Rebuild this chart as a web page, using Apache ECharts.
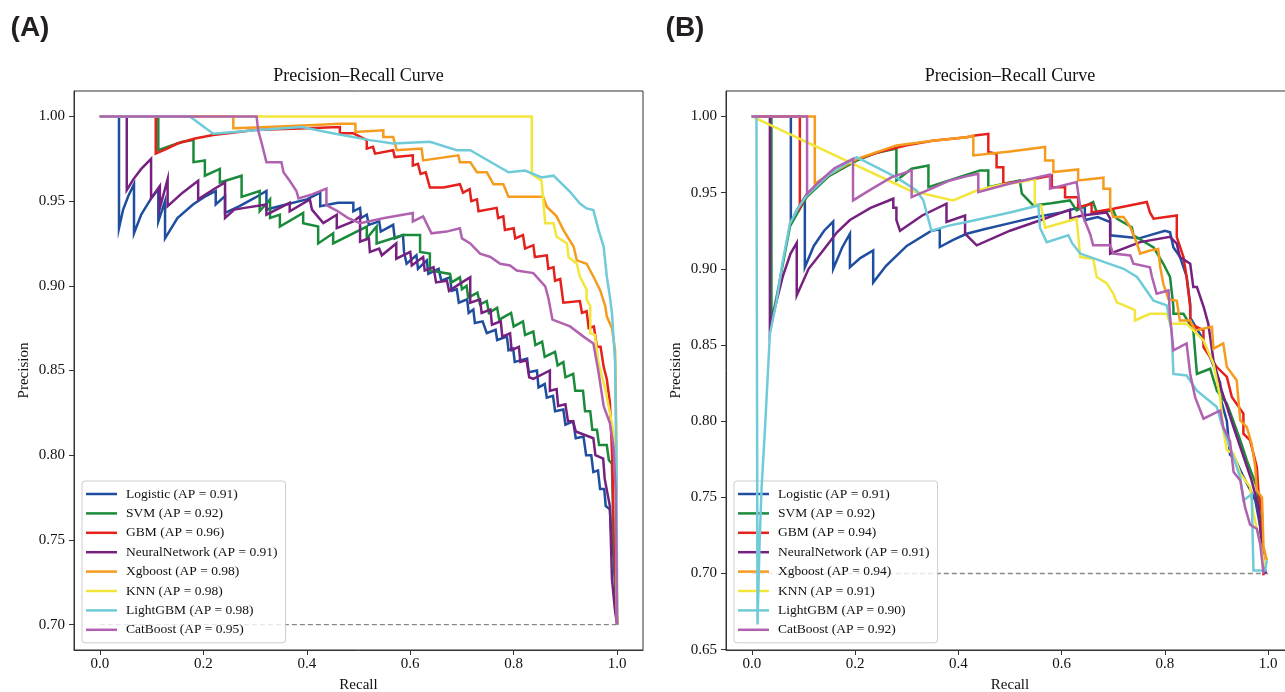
<!DOCTYPE html>
<html>
<head>
<meta charset="utf-8">
<script src="https://cdn.jsdelivr.net/npm/echarts@6/dist/echarts.min.js"></script>
<style>html,body{margin:0;padding:0;background:#fff;}#c{width:1285px;height:692px;}</style>
</head>
<body>
<div id="c"></div>
<script>
// ---------- DATA ----------
const models = ['Logistic', 'SVM', 'GBM', 'NeuralNetwork', 'Xgboost', 'KNN', 'LightGBM', 'CatBoost'];
const apA = ['0.91', '0.92', '0.96', '0.91', '0.98', '0.98', '0.98', '0.95'];
const apB = ['0.91', '0.92', '0.94', '0.91', '0.94', '0.91', '0.90', '0.92'];
const colors = ['#1f4e9f', '#1b8a3b', '#e4211c', '#76217f', '#f59b1e', '#f2e63d', '#6fcbd8', '#b062b0'];
const xTicks = [0.0, 0.2, 0.4, 0.6, 0.8, 1.0];
const yTicksA = [0.70, 0.75, 0.80, 0.85, 0.90, 0.95, 1.00];
const yTicksB = [0.65, 0.70, 0.75, 0.80, 0.85, 0.90, 0.95, 1.00];
const baseline = [[0, 0.70], [1.0, 0.70]];

// Panel A curves [recall, precision]
const logisticA = [[0,1],[0.037,1],[0.037,0.934],[0.045,0.945],[0.055,0.953],[0.066,0.96],[0.066,0.931],[0.08,0.942],[0.1,0.952],[0.113,0.957],[0.113,0.938],[0.126,0.95],[0.126,0.928],[0.15,0.94],[0.18,0.948],[0.205,0.953],[0.224,0.956],[0.224,0.948],[0.242,0.953],[0.242,0.943],[0.27,0.947],[0.3,0.952],[0.322,0.956],[0.322,0.945],[0.36,0.948],[0.4,0.951],[0.426,0.955],[0.426,0.947],[0.46,0.949],[0.49,0.949],[0.49,0.944],[0.503,0.946],[0.505,0.94],[0.516,0.942],[0.52,0.936],[0.54,0.938],[0.543,0.932],[0.567,0.936],[0.57,0.928],[0.586,0.93],[0.588,0.92],[0.593,0.913],[0.612,0.918],[0.615,0.91],[0.632,0.915],[0.635,0.907],[0.655,0.91],[0.66,0.903],[0.677,0.905],[0.68,0.897],[0.69,0.898],[0.694,0.89],[0.71,0.892],[0.713,0.884],[0.722,0.886],[0.725,0.878],[0.74,0.879],[0.748,0.872],[0.765,0.874],[0.768,0.868],[0.787,0.87],[0.79,0.862],[0.799,0.863],[0.802,0.855],[0.826,0.857],[0.829,0.849],[0.845,0.85],[0.848,0.84],[0.86,0.842],[0.864,0.834],[0.876,0.835],[0.88,0.826],[0.896,0.827],[0.9,0.818],[0.915,0.82],[0.92,0.81],[0.935,0.811],[0.94,0.8],[0.95,0.8],[0.954,0.79],[0.963,0.791],[0.967,0.78],[0.975,0.78],[0.978,0.77],[0.986,0.768],[0.988,0.757],[0.99,0.752],[0.993,0.74],[1.0,0.70]];
const svmA = [[0,1],[0.113,1],[0.113,0.98],[0.14,0.983],[0.16,0.985],[0.181,0.986],[0.181,0.973],[0.203,0.974],[0.203,0.965],[0.232,0.969],[0.232,0.961],[0.274,0.965],[0.274,0.9525],[0.309,0.956],[0.309,0.944],[0.329,0.951],[0.329,0.94],[0.348,0.942],[0.348,0.935],[0.393,0.943],[0.393,0.937],[0.422,0.935],[0.422,0.925],[0.451,0.931],[0.451,0.925],[0.516,0.935],[0.516,0.928],[0.535,0.935],[0.535,0.925],[0.586,0.93],[0.619,0.93],[0.619,0.92],[0.638,0.919],[0.638,0.909],[0.677,0.907],[0.68,0.902],[0.696,0.905],[0.7,0.898],[0.709,0.9],[0.712,0.893],[0.73,0.896],[0.735,0.889],[0.748,0.891],[0.752,0.884],[0.768,0.887],[0.772,0.88],[0.795,0.884],[0.8,0.876],[0.818,0.879],[0.822,0.871],[0.838,0.873],[0.842,0.865],[0.855,0.867],[0.86,0.858],[0.88,0.861],[0.885,0.853],[0.896,0.855],[0.9,0.846],[0.915,0.848],[0.919,0.838],[0.934,0.838],[0.938,0.826],[0.948,0.826],[0.952,0.815],[0.961,0.815],[0.965,0.806],[0.98,0.806],[0.984,0.797],[0.99,0.795],[0.993,0.75],[1.0,0.70]];
const gbmA = [[0,1],[0.108,1],[0.108,0.978],[0.13,0.981],[0.15,0.984],[0.184,0.987],[0.219,0.989],[0.3,0.992],[0.4,0.993],[0.464,0.9937],[0.464,0.99],[0.49,0.99],[0.516,0.986],[0.516,0.981],[0.528,0.982],[0.532,0.978],[0.567,0.98],[0.57,0.976],[0.605,0.977],[0.605,0.971],[0.615,0.972],[0.62,0.966],[0.63,0.967],[0.638,0.958],[0.664,0.958],[0.696,0.96],[0.702,0.955],[0.715,0.957],[0.718,0.95],[0.729,0.951],[0.732,0.944],[0.767,0.946],[0.77,0.94],[0.78,0.941],[0.783,0.933],[0.8,0.934],[0.803,0.928],[0.818,0.93],[0.822,0.922],[0.838,0.924],[0.841,0.917],[0.864,0.918],[0.867,0.91],[0.877,0.911],[0.88,0.903],[0.89,0.904],[0.896,0.89],[0.928,0.891],[0.932,0.884],[0.941,0.885],[0.945,0.875],[0.955,0.876],[0.961,0.864],[0.968,0.864],[0.974,0.852],[0.98,0.845],[0.986,0.831],[0.99,0.802],[0.993,0.766],[1.0,0.70]];
const nnA = [[0,1],[0.052,1],[0.052,0.9565],[0.065,0.963],[0.08,0.969],[0.099,0.975],[0.099,0.9516],[0.116,0.959],[0.116,0.946],[0.131,0.963],[0.131,0.947],[0.16,0.955],[0.19,0.962],[0.19,0.951],[0.22,0.957],[0.242,0.961],[0.242,0.94],[0.26,0.945],[0.28,0.946],[0.322,0.948],[0.322,0.942],[0.367,0.949],[0.367,0.944],[0.406,0.951],[0.41,0.945],[0.432,0.937],[0.458,0.942],[0.458,0.934],[0.49,0.938],[0.503,0.941],[0.503,0.926],[0.52,0.928],[0.522,0.92],[0.54,0.922],[0.545,0.918],[0.573,0.925],[0.573,0.916],[0.6,0.92],[0.603,0.912],[0.625,0.917],[0.628,0.909],[0.645,0.911],[0.65,0.902],[0.671,0.903],[0.675,0.897],[0.7,0.902],[0.716,0.905],[0.716,0.89],[0.735,0.892],[0.738,0.884],[0.755,0.886],[0.758,0.877],[0.775,0.879],[0.778,0.87],[0.793,0.872],[0.796,0.862],[0.81,0.864],[0.813,0.855],[0.825,0.856],[0.83,0.846],[0.838,0.845],[0.87,0.85],[0.87,0.838],[0.883,0.839],[0.886,0.829],[0.9,0.83],[0.905,0.82],[0.915,0.82],[0.92,0.814],[0.954,0.81],[0.958,0.8],[0.973,0.798],[0.976,0.786],[0.986,0.77],[0.99,0.727],[0.996,0.708],[1.0,0.70]];
const xgbA = [[0,1],[0.258,1],[0.258,0.993],[0.3,0.9935],[0.393,0.9947],[0.464,0.9957],[0.494,0.9957],[0.494,0.9908],[0.548,0.9918],[0.548,0.9878],[0.567,0.9878],[0.574,0.98],[0.622,0.981],[0.625,0.974],[0.693,0.977],[0.696,0.973],[0.716,0.973],[0.729,0.967],[0.748,0.967],[0.761,0.96],[0.78,0.96],[0.79,0.9525],[0.857,0.9525],[0.864,0.9467],[0.883,0.941],[0.896,0.933],[0.916,0.923],[0.922,0.915],[0.941,0.913],[0.954,0.9055],[0.967,0.8976],[0.977,0.888],[0.98,0.882],[0.99,0.875],[0.996,0.862],[0.998,0.82],[1.0,0.70]];
const knnA = [[0,1],[0.835,1],[0.835,0.966],[0.854,0.962],[0.857,0.9506],[0.861,0.937],[0.877,0.937],[0.883,0.929],[0.903,0.925],[0.906,0.917],[0.922,0.913],[0.928,0.9055],[0.941,0.8976],[0.941,0.892],[0.948,0.888],[0.948,0.872],[0.957,0.871],[0.964,0.8545],[0.977,0.839],[0.986,0.825],[0.993,0.813],[0.996,0.80],[1.0,0.70]];
const lgbmA = [[0,1],[0.174,1],[0.219,0.9898],[0.3,0.9918],[0.39,0.9937],[0.45,0.99],[0.522,0.986],[0.567,0.984],[0.638,0.985],[0.69,0.98],[0.716,0.98],[0.79,0.967],[0.822,0.968],[0.854,0.964],[0.877,0.965],[0.909,0.9555],[0.928,0.9486],[0.941,0.9457],[0.954,0.9447],[0.964,0.933],[0.974,0.923],[0.98,0.9055],[0.986,0.8935],[0.99,0.884],[0.996,0.855],[0.999,0.786],[1.0,0.70]];
const catA = [[0,1],[0.303,1],[0.306,0.9918],[0.313,0.984],[0.322,0.973],[0.351,0.973],[0.355,0.967],[0.367,0.962],[0.38,0.956],[0.384,0.9516],[0.41,0.954],[0.438,0.9574],[0.438,0.9476],[0.46,0.944],[0.48,0.94],[0.503,0.937],[0.55,0.94],[0.605,0.943],[0.605,0.938],[0.625,0.941],[0.641,0.931],[0.67,0.932],[0.696,0.934],[0.7,0.928],[0.716,0.925],[0.735,0.919],[0.755,0.917],[0.774,0.913],[0.793,0.912],[0.806,0.909],[0.838,0.9075],[0.861,0.8996],[0.867,0.893],[0.875,0.88],[0.909,0.876],[0.935,0.87],[0.954,0.866],[0.964,0.849],[0.974,0.829],[0.986,0.819],[0.993,0.805],[0.997,0.78],[1.0,0.70]];

// Panel B curves [recall, precision]
const logisticB = [[0,1],[0.0756,1],[0.0756,0.9296],[0.085,0.937],[0.095,0.943],[0.1027,0.947],[0.1027,0.901],[0.12,0.915],[0.14,0.925],[0.1576,0.931],[0.1576,0.9],[0.175,0.914],[0.19,0.923],[0.19,0.901],[0.21,0.907],[0.235,0.912],[0.235,0.891],[0.26,0.902],[0.3,0.915],[0.348,0.925],[0.364,0.926],[0.364,0.9143],[0.39,0.919],[0.416,0.923],[0.45,0.926],[0.5,0.93],[0.55,0.934],[0.6,0.937],[0.63,0.94],[0.645,0.9405],[0.645,0.932],[0.67,0.934],[0.694,0.9307],[0.694,0.922],[0.75,0.92],[0.8,0.925],[0.81,0.924],[0.8165,0.914],[0.829,0.908],[0.842,0.895],[0.849,0.877],[0.849,0.868],[0.87,0.856],[0.89,0.84],[0.907,0.825],[0.907,0.816],[0.92,0.80],[0.926,0.778],[0.936,0.775],[0.95,0.765],[0.965,0.755],[0.975,0.748],[0.985,0.73],[0.99,0.71],[0.995,0.70]];
const svmB = [[0,1],[0.038,1],[0.038,0.865],[0.05,0.885],[0.074,0.928],[0.106,0.947],[0.15,0.961],[0.203,0.971],[0.24,0.976],[0.28,0.979],[0.28,0.958],[0.3095,0.9657],[0.342,0.9678],[0.342,0.9536],[0.4,0.96],[0.442,0.9646],[0.458,0.9646],[0.458,0.9536],[0.49,0.956],[0.519,0.958],[0.523,0.9493],[0.545,0.9416],[0.58,0.943],[0.616,0.9449],[0.629,0.9383],[0.661,0.9438],[0.668,0.9372],[0.7,0.9383],[0.7068,0.9329],[0.736,0.9273],[0.739,0.922],[0.778,0.914],[0.797,0.9033],[0.81,0.8946],[0.8165,0.8749],[0.8165,0.8705],[0.836,0.8705],[0.855,0.8596],[0.862,0.831],[0.8876,0.8344],[0.9006,0.82],[0.92,0.8115],[0.9296,0.8027],[0.946,0.7874],[0.9587,0.7743],[0.978,0.7568],[0.9845,0.735],[0.991,0.702]];
const gbmB = [[0,1],[0.093,1],[0.093,0.94],[0.107,0.949],[0.15,0.962],[0.196,0.971],[0.25,0.977],[0.3,0.981],[0.35,0.984],[0.416,0.9864],[0.432,0.9875],[0.458,0.9886],[0.458,0.9766],[0.474,0.9755],[0.474,0.9667],[0.487,0.9667],[0.487,0.9558],[0.53,0.958],[0.581,0.9613],[0.581,0.9536],[0.6066,0.9536],[0.6066,0.947],[0.632,0.947],[0.632,0.9405],[0.658,0.9427],[0.658,0.937],[0.7,0.9394],[0.765,0.9438],[0.771,0.937],[0.778,0.9329],[0.823,0.935],[0.823,0.9208],[0.836,0.9077],[0.842,0.8946],[0.849,0.8749],[0.849,0.864],[0.8747,0.8596],[0.8747,0.8486],[0.9006,0.8355],[0.92,0.829],[0.9296,0.8158],[0.952,0.805],[0.952,0.7918],[0.965,0.7874],[0.978,0.77],[0.981,0.7546],[0.988,0.7393],[0.991,0.6988]];
const nnB = [[0,1],[0.035,1],[0.035,0.86],[0.045,0.875],[0.06,0.895],[0.075,0.91],[0.087,0.917],[0.087,0.8825],[0.11,0.9],[0.138,0.912],[0.165,0.924],[0.19,0.932],[0.23,0.94],[0.274,0.946],[0.274,0.94],[0.28,0.94],[0.28,0.932],[0.287,0.925],[0.33,0.935],[0.377,0.9427],[0.377,0.9307],[0.413,0.935],[0.413,0.923],[0.4355,0.9154],[0.5,0.925],[0.56,0.932],[0.616,0.9388],[0.617,0.9329],[0.64,0.935],[0.687,0.937],[0.694,0.933],[0.694,0.91],[0.752,0.9175],[0.81,0.921],[0.823,0.9165],[0.829,0.9077],[0.849,0.9033],[0.855,0.888],[0.862,0.888],[0.875,0.875],[0.884,0.864],[0.894,0.84],[0.91,0.82],[0.933,0.796],[0.946,0.783],[0.968,0.761],[0.981,0.744],[0.99,0.71],[0.995,0.70]];
const xgbB = [[0,1],[0.122,1],[0.122,0.9558],[0.15,0.962],[0.203,0.972],[0.28,0.981],[0.35,0.984],[0.416,0.9864],[0.429,0.9875],[0.429,0.9744],[0.5,0.977],[0.568,0.98],[0.568,0.9711],[0.584,0.9711],[0.584,0.9635],[0.632,0.9652],[0.632,0.958],[0.681,0.9598],[0.681,0.9526],[0.694,0.9526],[0.694,0.9405],[0.7,0.934],[0.72,0.934],[0.733,0.9273],[0.746,0.9165],[0.752,0.91],[0.771,0.912],[0.787,0.913],[0.791,0.901],[0.797,0.89],[0.807,0.88],[0.823,0.879],[0.829,0.866],[0.849,0.866],[0.8585,0.8596],[0.891,0.862],[0.894,0.8476],[0.913,0.851],[0.92,0.8355],[0.939,0.8268],[0.946,0.8005],[0.9587,0.796],[0.968,0.785],[0.975,0.77],[0.978,0.7546],[0.988,0.75],[0.991,0.7174],[0.9975,0.7087]];
const knnB = [[0,1],[0.306,0.9514],[0.39,0.9449],[0.4355,0.9514],[0.48,0.955],[0.52,0.957],[0.548,0.959],[0.548,0.9416],[0.56,0.9416],[0.568,0.927],[0.629,0.9329],[0.636,0.9077],[0.661,0.9066],[0.668,0.8946],[0.687,0.8906],[0.7,0.8837],[0.7068,0.878],[0.736,0.8738],[0.742,0.8727],[0.742,0.8661],[0.771,0.8705],[0.8036,0.8705],[0.81,0.864],[0.842,0.864],[0.8747,0.853],[0.894,0.8377],[0.907,0.8158],[0.913,0.794],[0.92,0.781],[0.933,0.7787],[0.946,0.7655],[0.965,0.7568],[0.9715,0.7393],[0.9845,0.7196],[0.994,0.7043]];
const lgbmB = [[0,1],[0.009,1],[0.011,0.6665],[0.015,0.72],[0.019,0.757],[0.025,0.792],[0.035,0.857],[0.048,0.879],[0.06,0.905],[0.0736,0.9296],[0.09,0.94],[0.106,0.948],[0.15,0.962],[0.203,0.9733],[0.28,0.96],[0.319,0.9514],[0.332,0.945],[0.348,0.925],[0.368,0.927],[0.3837,0.9285],[0.416,0.9307],[0.5,0.937],[0.555,0.9416],[0.558,0.927],[0.571,0.9175],[0.613,0.922],[0.62,0.917],[0.636,0.91],[0.72,0.9],[0.746,0.8946],[0.778,0.879],[0.8036,0.876],[0.813,0.8596],[0.8165,0.831],[0.842,0.83],[0.862,0.82],[0.9006,0.8093],[0.91,0.798],[0.926,0.783],[0.946,0.763],[0.952,0.748],[0.968,0.752],[0.9715,0.702],[0.994,0.702],[0.9975,0.7087]];
const catB = [[0,1],[0.107,1],[0.107,0.9493],[0.13,0.957],[0.16,0.966],[0.196,0.9722],[0.196,0.9449],[0.23,0.952],[0.27,0.96],[0.3095,0.9646],[0.3095,0.947],[0.35,0.953],[0.3837,0.958],[0.4225,0.9613],[0.4386,0.9624],[0.4386,0.9503],[0.5,0.956],[0.5775,0.9619],[0.5775,0.9526],[0.629,0.9569],[0.636,0.9405],[0.642,0.934],[0.655,0.923],[0.661,0.9154],[0.694,0.9154],[0.7,0.91],[0.733,0.9088],[0.739,0.9033],[0.771,0.901],[0.775,0.8946],[0.784,0.8837],[0.807,0.8858],[0.81,0.8683],[0.8165,0.8465],[0.842,0.851],[0.849,0.831],[0.8585,0.8158],[0.8747,0.8016],[0.907,0.807],[0.913,0.796],[0.926,0.787],[0.933,0.7666],[0.946,0.761],[0.955,0.7437],[0.965,0.732],[0.978,0.7294],[0.9845,0.7196],[0.991,0.70]];

const curvesA = [logisticA, svmA, gbmA, nnA, xgbA, knnA, lgbmA, catA];
const curvesB = [logisticB, svmB, gbmB, nnB, xgbB, knnB, lgbmB, catB];

// ---------- CHART ----------
const serif = 'Liberation Serif, Times New Roman, serif';
const namesA = models.map((m, i) => m + ' (AP = ' + apA[i] + ')');
const namesB = models.map((m, i) => m + ' (AP = ' + apB[i] + ')');

function xAxisCfg(gi) {
  return {
    type: 'value', gridIndex: gi, min: -0.05, max: 1.05,
    name: 'Recall', nameLocation: 'middle', nameGap: 28,
    nameTextStyle: {fontFamily: serif, fontSize: 15, color: '#111'},
    axisLine: {show: true, onZero: false, lineStyle: {color: '#333', width: 1}},
    axisTick: {show: true, length: 5, customValues: xTicks, lineStyle: {color: '#333'}},
    axisLabel: {customValues: xTicks, formatter: v => v.toFixed(1), fontFamily: serif, fontSize: 15, color: '#111', margin: 7},
    splitLine: {show: false}
  };
}
function yAxisCfg(gi, min, max, ticks) {
  return {
    type: 'value', gridIndex: gi, min: min, max: max,
    name: 'Precision', nameLocation: 'middle', nameGap: 42,
    nameTextStyle: {fontFamily: serif, fontSize: 15, color: '#111'},
    axisLine: {show: true, onZero: false, lineStyle: {color: '#333', width: 1}},
    axisTick: {show: true, length: 5, customValues: ticks, lineStyle: {color: '#333'}},
    axisLabel: {customValues: ticks, formatter: v => v.toFixed(2), fontFamily: serif, fontSize: 15, color: '#111', margin: 9},
    splitLine: {show: false}
  };
}
function legendCfg(left, names) {
  return {
    orient: 'vertical', left: left, top: 481, data: names,
    icon: 'rect', itemWidth: 31, itemHeight: 2.5, itemGap: 3.4,
    padding: [5, 8, 5, 4], backgroundColor: 'rgba(255,255,255,0.8)',
    borderColor: '#cccccc', borderWidth: 1, borderRadius: 3,
    selectedMode: false,
    textStyle: {fontFamily: serif, fontSize: 13.5, color: '#111', lineHeight: 16, padding: [0, 0, 0, 4]}
  };
}

const series = [];
[0, 1].forEach(p => {
  series.push({
    type: 'line', xAxisIndex: p, yAxisIndex: p, data: baseline, silent: true,
    showSymbol: false, symbol: 'none', z: 1,
    lineStyle: {color: '#888888', width: 1.4, type: [5, 3]}
  });
  const curves = p === 0 ? curvesA : curvesB;
  const names = p === 0 ? namesA : namesB;
  curves.forEach((d, i) => {
    series.push({
      type: 'line', name: names[i], xAxisIndex: p, yAxisIndex: p, data: d,
      showSymbol: false, symbol: 'none', z: 2 + i, color: colors[i],
      itemStyle: {color: colors[i]},
      lineStyle: {color: colors[i], width: 2.5, join: 'miter'}
    });
  });
});

const chart = echarts.init(document.getElementById('c'), null, {renderer: 'canvas'});
chart.setOption({
  animation: false,
  backgroundColor: '#ffffff',
  grid: [
    {left: 74, top: 91, width: 569, height: 559, show: true, borderColor: '#333', borderWidth: 1, backgroundColor: 'transparent', containLabel: false, outerBoundsMode: 'none'},
    {left: 726, top: 91, width: 568, height: 559, show: true, borderColor: '#333', borderWidth: 1, backgroundColor: 'transparent', containLabel: false, outerBoundsMode: 'none'}
  ],
  xAxis: [xAxisCfg(0), xAxisCfg(1)],
  yAxis: [yAxisCfg(0, 0.685, 1.015, yTicksA), yAxisCfg(1, 0.6498, 1.0167, yTicksB)],
  legend: [legendCfg(82, namesA), legendCfg(734, namesB)],
  graphic: [
    {type: 'text', x: 30, y: 28, style: {text: '(A)', font: 'bold 28px "Liberation Sans", Arial, sans-serif', fill: '#231f20', textAlign: 'center', textVerticalAlign: 'middle'}},
    {type: 'text', x: 685, y: 28, style: {text: '(B)', font: 'bold 28px "Liberation Sans", Arial, sans-serif', fill: '#231f20', textAlign: 'center', textVerticalAlign: 'middle'}},
    {type: 'text', x: 358.5, y: 76, style: {text: 'Precision–Recall Curve', font: '18px "Liberation Serif", serif', fill: '#111', textAlign: 'center', textVerticalAlign: 'middle'}},
    {type: 'text', x: 1010, y: 76, style: {text: 'Precision–Recall Curve', font: '18px "Liberation Serif", serif', fill: '#111', textAlign: 'center', textVerticalAlign: 'middle'}}
  ],
  series: series
});
</script>
</body>
</html>
